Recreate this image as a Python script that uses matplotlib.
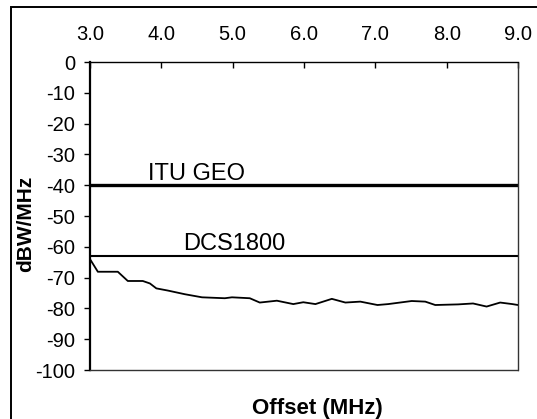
import matplotlib.pyplot as plt
from matplotlib.patches import Rectangle

plt.rcParams['font.family'] = ['Liberation Sans', 'DejaVu Sans']
plt.rcParams['axes.unicode_minus'] = False

# measured emission vs offset
offset_mhz = [3.00, 3.11, 3.39, 3.53, 3.74, 3.84, 3.93, 4.09, 4.33, 4.57,
              4.89, 4.99, 5.24, 5.38, 5.62, 5.85, 5.99, 6.16, 6.39, 6.58,
              6.79, 7.03, 7.18, 7.51, 7.70, 7.84, 8.16, 8.37, 8.56, 8.75,
              8.92, 9.00]
level_dbw = [-64.0, -68.1, -68.1, -71.1, -71.1, -71.9, -73.5, -74.2, -75.4, -76.4,
             -76.7, -76.4, -76.7, -78.1, -77.5, -78.6, -78.0, -78.6, -76.9, -78.1,
             -77.8, -78.9, -78.6, -77.6, -77.8, -78.9, -78.7, -78.4, -79.4, -78.1,
             -78.6, -78.9]

# limit lines
limit_names = ['ITU GEO', 'DCS1800']
limit_levels = [-40, -63]

x_ticks = [3.0, 4.0, 5.0, 6.0, 7.0, 8.0, 9.0]
y_ticks = [0, -10, -20, -30, -40, -50, -60, -70, -80, -90, -100]

fig = plt.figure(figsize=(5.37, 4.19), dpi=100)
ax = fig.add_axes([90/537, 1-370/419, 428/537, 308/419])

# outer frame
fig.add_artist(Rectangle((11/537, -0.05), 1.1, 1.05 - 7/419, transform=fig.transFigure,
                         fill=False, edgecolor='black', linewidth=1.4))

ax.plot(offset_mhz, level_dbw, color='black', lw=1.3)
ax.axhline(limit_levels[0], color='black', lw=2.4)
ax.axhline(limit_levels[1], color='black', lw=1.5)

ax.text(4.5, limit_levels[0] + 1.7, limit_names[0], ha='center', va='baseline', fontsize=17)
ax.text(5.02, limit_levels[1] + 2.0, limit_names[1], ha='center', va='baseline', fontsize=17)

ax.set_xlim(3.0, 9.0)
ax.set_ylim(-100, 0)
ax.set_xticks(x_ticks)
ax.set_xticklabels([f'{t:.1f}' for t in x_ticks])
ax.set_yticks(y_ticks)
ax.set_yticklabels([str(t) for t in y_ticks])

ax.xaxis.tick_top()
ax.tick_params(axis='x', direction='in', length=4, width=1, pad=13, labelsize=14.5)
ax.tick_params(axis='y', direction='out', length=4, width=1, pad=6.5, labelsize=14.5)

ax.spines['left'].set_linewidth(1.6)
ax.spines['top'].set_linewidth(1.0)
for s in ['right', 'bottom']:
    ax.spines[s].set_linewidth(1.0)
    ax.spines[s].set_linestyle((0, (2, 1)))
    ax.spines[s].set_color('#333333')

fig.text(26/537, 1-224/419, 'dBW/MHz', rotation=90, ha='center', va='center',
         fontsize=15, fontweight='bold')
fig.text(317/537, 1-408/419, 'Offset (MHz)', ha='center', va='center',
         fontsize=16, fontweight='bold')

plt.savefig('out.png', dpi=100)
